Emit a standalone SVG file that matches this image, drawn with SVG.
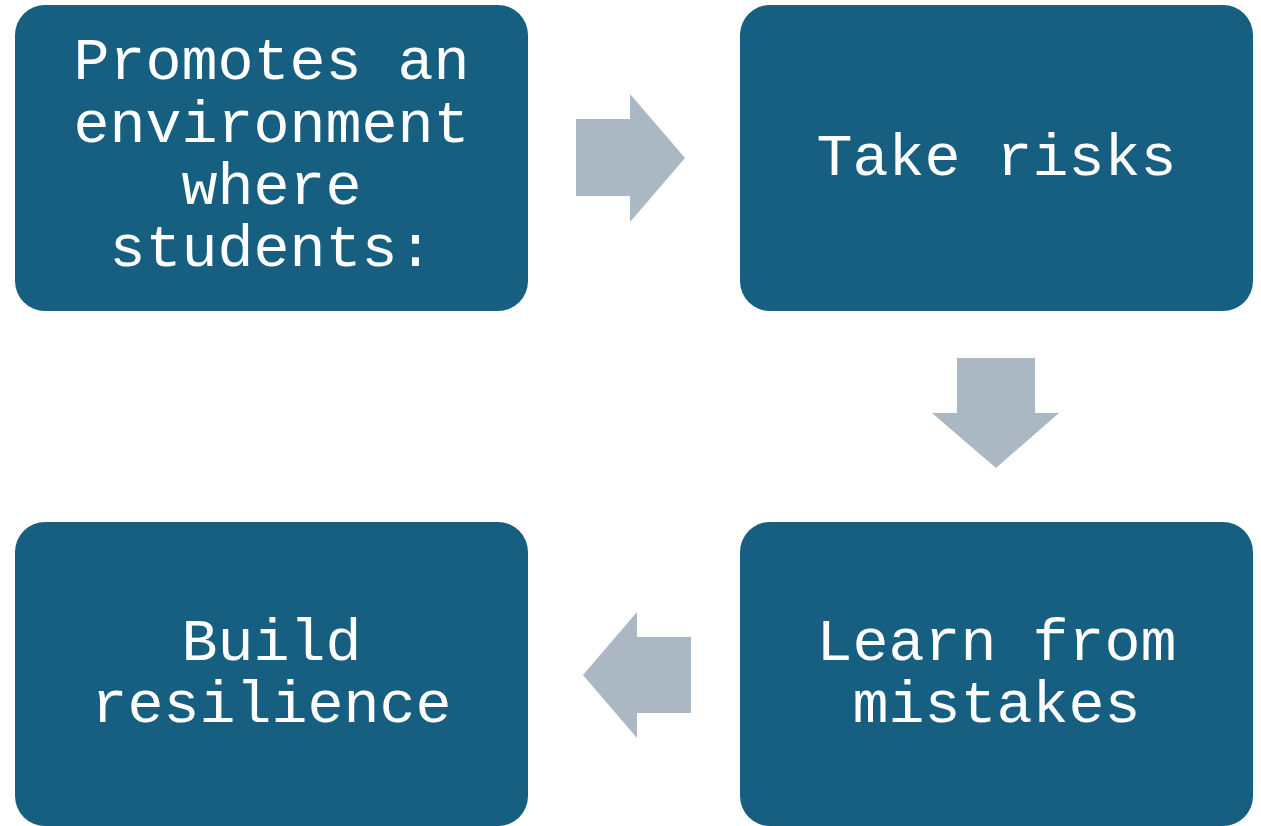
<svg xmlns="http://www.w3.org/2000/svg" width="1261" height="826" viewBox="0 0 1261 826">
<style>
.box{fill:#175F80}
.arrow{fill:#ABB7C3}
.t{font-family:"Liberation Mono","Courier New",monospace;font-size:60px;fill:#FFFFFF;text-anchor:middle}
</style>
<rect width="1261" height="826" fill="#FFFFFF"/>
<g id="node-promotes">
<rect class="box" x="15" y="5" width="513" height="306" rx="30"/>
<text class="t" x="271.5" y="79">Promotes an</text>
<text class="t" x="271.5" y="142">environment</text>
<text class="t" x="271.5" y="204">where</text>
<text class="t" x="271.5" y="266">students:</text>
</g>
<g id="node-risks">
<rect class="box" x="740" y="5" width="513" height="306" rx="30"/>
<text class="t" x="996.5" y="175">Take risks</text>
</g>
<g id="node-mistakes">
<rect class="box" x="740" y="522" width="513" height="304" rx="30"/>
<text class="t" x="996.5" y="660">Learn from</text>
<text class="t" x="996.5" y="722">mistakes</text>
</g>
<g id="node-resilience">
<rect class="box" x="15" y="522" width="513" height="304" rx="30"/>
<text class="t" x="271.5" y="660">Build</text>
<text class="t" x="271.5" y="722">resilience</text>
</g>
<g id="connectors">
<polygon class="arrow" points="576,119 630,119 630,94 685,158 630,222 630,196 576,196"/>
<polygon class="arrow" points="957,358 1035,358 1035,413 1059,413 996,468 932,413 957,413"/>
<polygon class="arrow" points="691,637 637,637 637,612 583,675 637,738 637,713 691,713"/>
</g>
</svg>
